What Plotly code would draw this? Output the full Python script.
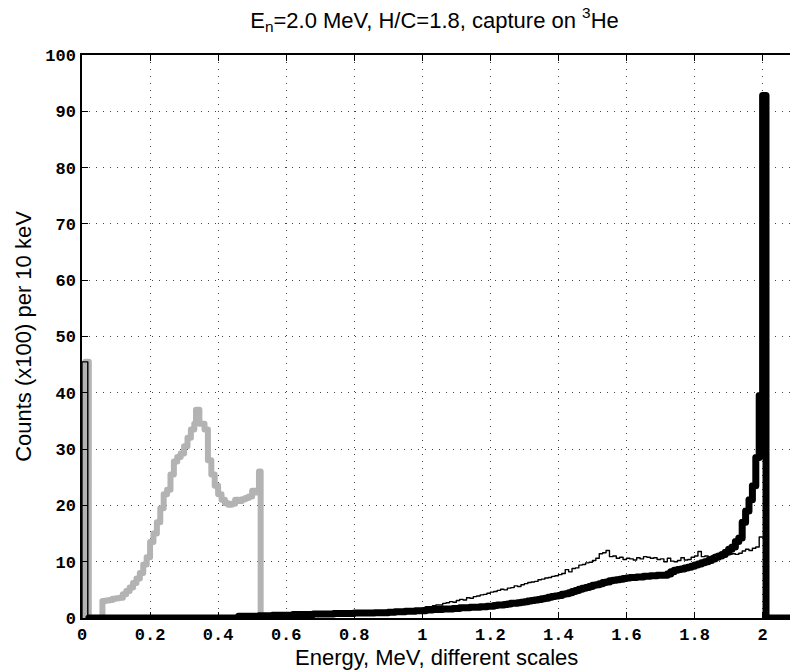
import plotly.graph_objects as go

# Grey spectrum (own energy scale): bin left edges, counts (x100) per bin, closing edge
grey_edges = [0.01, 0.02, 0.06, 0.07, 0.08, 0.09, 0.10, 0.11, 0.12, 0.13, 0.14,
              0.15, 0.16, 0.17, 0.18, 0.19, 0.20, 0.21, 0.22, 0.23, 0.24, 0.25,
              0.26, 0.27, 0.28, 0.29, 0.30, 0.31, 0.32, 0.33, 0.335, 0.345, 0.36,
              0.37, 0.38, 0.39, 0.40, 0.41, 0.42, 0.43, 0.44, 0.45, 0.46, 0.47,
              0.48, 0.49, 0.50, 0.51, 0.52, 0.525]
grey_counts = [45.5, 0.0, 3.0, 3.1, 3.2, 3.4, 3.5, 3.6, 4.2, 4.8, 5.4,
               6.2, 7.0, 8.0, 9.5, 10.8, 13.5, 15.0, 17.0, 19.5, 22.0, 22.8,
               25.5, 27.8, 28.6, 29.2, 30.5, 32.0, 33.5, 34.5, 37.0, 34.5, 33.5,
               28.0, 25.5, 23.5, 22.0, 21.0, 20.4, 20.1, 20.3, 21.0, 20.8, 21.1,
               21.3, 21.6, 22.6, 22.3, 26.0]

# Thin black spectrum
thin_edges = [0.0, 0.017, 0.46, 0.52, 0.56, 0.62, 0.68, 0.74, 0.80, 0.86,
              0.90, 0.91, 0.92, 0.93, 0.94, 0.95, 0.96, 0.97, 0.98, 0.99,
              1.00, 1.01, 1.02, 1.03, 1.04, 1.05, 1.06, 1.07, 1.08, 1.09,
              1.10, 1.11, 1.12, 1.13, 1.14, 1.15, 1.16, 1.17, 1.18, 1.19,
              1.20, 1.21, 1.22, 1.23, 1.24, 1.25, 1.26, 1.27, 1.28, 1.29,
              1.30, 1.31, 1.32, 1.33, 1.34, 1.35, 1.36, 1.37, 1.38, 1.39,
              1.40, 1.41, 1.42, 1.43, 1.44, 1.45, 1.46, 1.47, 1.48, 1.49,
              1.50, 1.51, 1.52, 1.53, 1.54, 1.55, 1.56, 1.57, 1.58, 1.59,
              1.60, 1.61, 1.62, 1.63, 1.64, 1.65, 1.66, 1.67, 1.68, 1.69,
              1.70, 1.71, 1.72, 1.73, 1.74, 1.75, 1.76, 1.77, 1.78, 1.79,
              1.80, 1.81, 1.82, 1.83, 1.84, 1.85, 1.86, 1.87, 1.88, 1.89,
              1.90, 1.91, 1.92, 1.93, 1.94, 1.95, 1.96, 1.97, 1.98, 1.99,
              2.00, 2.01]
thin_counts = [45.5, 0.0, 0.3, 0.4, 0.5, 0.6, 0.7, 0.8, 0.8, 0.9,
               0.9, 1.1, 1.1, 1.2, 1.2, 1.3, 1.4, 1.4, 1.5, 1.6,
               1.8, 2.0, 2.0, 2.2, 2.3, 2.3, 2.6, 2.7, 2.9, 2.8,
               3.1, 3.3, 3.2, 3.6, 3.5, 3.8, 3.9, 4.1, 4.2, 4.4,
               4.6, 4.7, 4.9, 5.1, 5.0, 5.3, 5.4, 5.7, 5.6, 5.9,
               6.1, 6.3, 6.4, 6.5, 6.8, 6.9, 7.1, 7.2, 7.4, 7.5,
               7.7, 7.9, 8.6, 8.2, 8.8, 8.9, 9.4, 9.5, 9.8, 9.9,
               10.2, 10.6, 11.4, 11.6, 12.0, 10.9, 11.0, 10.6, 10.8, 10.4,
               10.6, 10.5, 10.3, 10.7, 10.5, 10.9, 10.8, 10.6, 10.7, 10.4,
               10.5, 10.0, 10.6, 10.1, 10.0, 10.2, 10.7, 10.3, 10.4, 10.8,
               11.0, 11.8, 10.9, 11.0, 10.8, 11.0, 11.3, 11.3, 11.3, 11.4,
               11.3, 11.4, 11.3, 11.5, 11.9, 12.2, 12.0, 12.4, 12.6, 14.4,
               14.4]

# Thick black spectrum
thick_edges = [0.02, 0.46, 0.52, 0.56, 0.62, 0.68, 0.74, 0.80, 0.86,
               0.90, 0.91, 0.92, 0.93, 0.94, 0.95, 0.96, 0.97, 0.98, 0.99,
               1.00, 1.01, 1.02, 1.03, 1.04, 1.05, 1.06, 1.07, 1.08, 1.09,
               1.10, 1.11, 1.12, 1.13, 1.14, 1.15, 1.16, 1.17, 1.18, 1.19,
               1.20, 1.21, 1.22, 1.23, 1.24, 1.25, 1.26, 1.27, 1.28, 1.29,
               1.30, 1.31, 1.32, 1.33, 1.34, 1.35, 1.36, 1.37, 1.38, 1.39,
               1.40, 1.41, 1.42, 1.43, 1.44, 1.45, 1.46, 1.47, 1.48, 1.49,
               1.50, 1.51, 1.52, 1.53, 1.54, 1.55, 1.56, 1.57, 1.58, 1.59,
               1.60, 1.61, 1.62, 1.63, 1.64, 1.65, 1.66, 1.67, 1.68, 1.69,
               1.70, 1.71, 1.72, 1.73, 1.74, 1.75, 1.76, 1.77, 1.78, 1.79,
               1.80, 1.81, 1.82, 1.83, 1.84, 1.85, 1.86, 1.87, 1.88, 1.89,
               1.90, 1.91, 1.92, 1.93, 1.94, 1.95, 1.96, 1.97, 1.98, 1.99,
               2.00, 2.01, 2.09]
thick_counts = [0.0, 0.3, 0.4, 0.5, 0.6, 0.7, 0.8, 0.9, 0.95,
                1.0, 1.0, 1.1, 1.1, 1.1, 1.2, 1.2, 1.2, 1.3, 1.3,
                1.3, 1.4, 1.4, 1.5, 1.5, 1.5, 1.6, 1.6, 1.6, 1.7,
                1.7, 1.8, 1.8, 1.8, 1.9, 1.9, 1.9, 2.0, 2.0, 2.1,
                2.1, 2.2, 2.3, 2.3, 2.4, 2.5, 2.6, 2.6, 2.7, 2.8,
                2.9, 3.0, 3.1, 3.2, 3.3, 3.4, 3.5, 3.7, 3.8, 3.9,
                4.0, 4.2, 4.3, 4.5, 4.7, 4.9, 5.1, 5.3, 5.4, 5.6,
                5.8, 5.9, 6.1, 6.3, 6.4, 6.6, 6.7, 6.8, 6.9, 7.0,
                7.1, 7.2, 7.2, 7.3, 7.3, 7.4, 7.4, 7.5, 7.5, 7.6,
                7.6, 7.6, 7.8, 8.2, 8.5, 8.6, 8.7, 8.9, 9.0, 9.2,
                9.4, 9.6, 9.8, 10.0, 10.2, 10.5, 10.8, 11.0, 11.3, 11.7,
                12.2, 12.6, 13.6, 14.2, 17.0, 19.0, 21.0, 23.5, 28.5, 39.5,
                92.8, 0.0]

x_ticks = [0, 0.2, 0.4, 0.6, 0.8, 1.0, 1.2, 1.4, 1.6, 1.8, 2.0]
x_tick_text = ["0", "0.2", "0.4", "0.6", "0.8", "1", "1.2", "1.4", "1.6", "1.8", "2"]
y_ticks = [0, 10, 20, 30, 40, 50, 60, 70, 80, 90, 100]


def step_xy(edges, counts):
    """Outline of a histogram: rise at the first edge, drop at the last."""
    x = [edges[0]] + list(edges)
    y = [0.0] + list(counts) + [0.0]
    return x, y


fig = go.Figure()

gx, gy = step_xy(grey_edges, grey_counts)
fig.add_trace(go.Scatter(x=gx, y=gy, mode="lines", line_shape="hv",
                         line=dict(color="#b3b3b3", width=6), hoverinfo="skip"))

tx, ty = step_xy(thin_edges, thin_counts)
fig.add_trace(go.Scatter(x=tx, y=ty, mode="lines", line_shape="hv",
                         line=dict(color="black", width=1.4), hoverinfo="skip"))

kx, ky = step_xy(thick_edges, thick_counts)
fig.add_trace(go.Scatter(x=kx, y=ky, mode="lines", line_shape="hv",
                         line=dict(color="black", width=7), hoverinfo="skip"))

tick_font = dict(family="Liberation Mono", size=17, color="black", weight="bold")
label_font = dict(family="Liberation Sans", size=22, color="black")

fig.update_layout(
    width=790, height=671,
    margin=dict(l=82, r=0, t=55, b=53),
    paper_bgcolor="white", plot_bgcolor="white",
    showlegend=False,
    title=dict(
        text="E<sub>n</sub>=2.0 MeV, H/C=1.8, capture on <sup>3</sup>He",
        font=dict(family="Liberation Sans", size=22, color="black"),
        x=0.55, xanchor="center", xref="container",
        y=1 - 20 / 671, yanchor="middle", yref="container",
    ),
    annotations=[dict(
        text="Energy, MeV, different scales", font=label_font,
        xref="paper", yref="paper", x=0.5, y=-(657 - 618) / 563,
        xanchor="center", yanchor="middle", showarrow=False,
    )],
)

fig.update_xaxes(
    range=[0, 2.0805], tickvals=x_ticks, ticktext=x_tick_text,
    ticks="inside", ticklen=6, tickwidth=1, tickcolor="black",
    showline=True, linecolor="black", linewidth=1.5, mirror="ticks",
    showgrid=True, gridcolor="#444", gridwidth=1, griddash="1px,6px",
    zeroline=False, tickfont=tick_font,
)
fig.update_yaxes(
    range=[0, 100], tickvals=y_ticks,
    ticks="inside", ticklen=6, tickwidth=1, tickcolor="black",
    showline=True, linecolor="black", linewidth=1.5, mirror=False,
    showgrid=True, gridcolor="#444", gridwidth=1, griddash="1px,6px",
    zeroline=False, tickfont=tick_font, ticklabelstandoff=1,
    title=dict(text="Counts (x100) per 10 keV", font=label_font, standoff=8),
)

# rounded corners on the histogram outlines
round_joins = (
    "document.querySelectorAll('.scatterlayer .js-line').forEach(function(p){"
    "p.style.strokeLinejoin='round';p.style.strokeLinecap='round';});"
)

fig.write_html("out.html", post_script=round_joins)
